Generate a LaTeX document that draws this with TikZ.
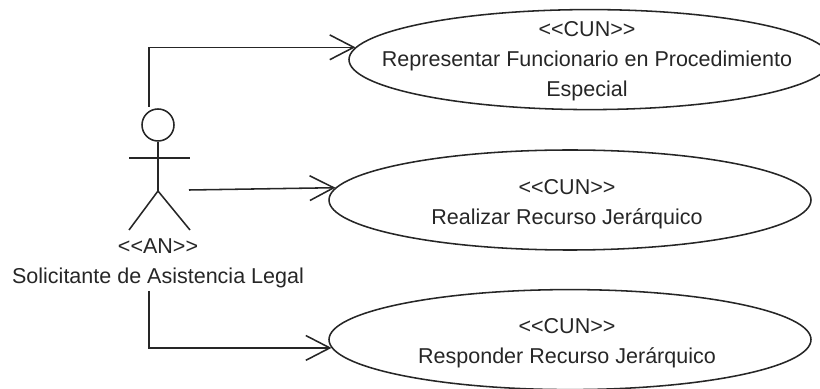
\documentclass[tikz,border=0pt]{standalone}
\usepackage{fontspec}
\setmainfont{Liberation Sans}
\usetikzlibrary{arrows.meta,shapes.geometric}
\tikzset{
  usecase/.style={ellipse, draw, minimum width=12.05cm, minimum height=2.5cm, inner sep=0pt},
  lbl/.style={inner sep=0pt, align=center},
  uclbl/.style={lbl, xshift=-0.075cm, yshift=-0.1cm},
  >={Straight Barb[length=0.6cm,width=0.62cm]}
}
\newcommand{\stereo}[1]{{<}{<}#1{>}{>}}
\begin{document}
\begin{tikzpicture}[line width=1.1pt, color=black!85, font=\fontsize{15.3}{21.3}\selectfont]
    \useasboundingbox (0,0) rectangle (20.5,9.7);
    % casos de uso
    \node[usecase] (uc1) at (14.75,8.21) {};
    \node[usecase] (uc2) at (14.25,4.7) {};
    \node[usecase] (uc3) at (14.25,1.21) {};
    \node[uclbl, yshift=0.05cm] (uc1txt) at (uc1) {\stereo{CUN}\\Representar Funcionario en Procedimiento\\Especial};
    \node[uclbl] (uc2txt) at (uc2) {\stereo{CUN}\\Realizar Recurso Jerárquico};
    \node[uclbl] (uc3txt) at (uc3) {\stereo{CUN}\\Responder Recurso Jerárquico};
    % actor
    \node[circle, draw, minimum size=0.8cm, inner sep=0pt] (head) at (3.95,6.575) {};
    \coordinate (hip) at (3.95,4.925);
    \coordinate (arml) at (3.225,5.75);
    \coordinate (armr) at (4.75,5.75);
    \coordinate (footl) at (3.225,3.95);
    \coordinate (footr) at (4.75,3.95);
    \draw (head.south) -- (hip);
    \draw (arml) -- (armr);
    \draw (footl) -- (hip) -- (footr);
    \node[lbl] (anlbl) at (3.95,3.55) {\stereo{AN}};
    \node[lbl] (actor) at (3.95,2.75) {Solicitante de Asistencia Legal};
    % asociaciones
    \coordinate (top) at (3.725,7.025);
    \coordinate (hand) at (4.725,4.95);
    \coordinate (bottom) at (3.725,2.425);
    \draw[->] (top) |- (uc1.177.7);
    \draw[->] (hand) -- (uc2.177.6);
    \draw[->] (bottom) |- (uc3.182.5);
  \end{tikzpicture}
\end{document}
